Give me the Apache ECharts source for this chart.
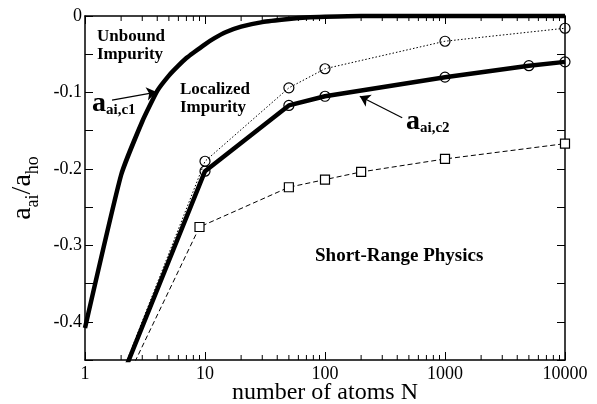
<!DOCTYPE html>
<html><head><meta charset="utf-8">
<script src="https://cdn.jsdelivr.net/npm/echarts@6/dist/echarts.min.js"></script>
<style>html,body{margin:0;padding:0;background:#fff}#c{width:597px;height:404px}</style>
</head><body><div id="c"></div>
<script>
// ---- data ----
const c1N = [1, 2, 3, 4, 5, 6, 7, 8, 10, 12, 15, 20, 30, 50, 70, 100, 200, 1000, 10000];
const c1Val = [-0.408, -0.208, -0.138, -0.098, -0.078, -0.065, -0.055, -0.048, -0.037, -0.029, -0.021, -0.014, -0.008, -0.004, -0.002, -0.001, 0, 0, 0];
const c2N = [2, 10, 50, 100, 1000, 5000, 10000];
const c2Val = [-0.475, -0.203, -0.117, -0.105, -0.080, -0.065, -0.060];
const c2Marker = [false, true, true, true, true, true, true];
const dotN = [2, 10, 50, 100, 1000, 10000];
const dotVal = [-0.47, -0.190, -0.094, -0.069, -0.033, -0.016];
const dotMarker = [false, true, true, true, true, true];
const sqN = [2, 9, 50, 100, 200, 1000, 10000];
const sqVal = [-0.49, -0.276, -0.224, -0.214, -0.204, -0.187, -0.167];
const sqMarker = [false, true, true, true, true, true, true];
const minorTickVals = [];
[1, 10, 100, 1000].forEach(d => { for (let k = 2; k <= 9; k++) minorTickVals.push(d * k); });
const arrowC1 = [[1.68, -0.110], [3.95, -0.0995]];
const arrowC2 = [[440, -0.133], [195, -0.105]];

const FONT = '"Liberation Serif", "DejaVu Serif", serif';
function pairs(xs, ys, marks) {
  return xs.map((x, i) => ({ value: [x, ys[i]], symbolSize: marks && !marks[i] ? 0 : undefined }));
}
const chart = echarts.init(document.getElementById('c'), null, { renderer: 'canvas' });
const tickCommon = { show: true, inside: true, length: 8, lineStyle: { color: '#000', width: 1 } };
const lineCommon = { show: true, onZero: false, lineStyle: { color: '#000', width: 1.5 } };
chart.setOption({
  animation: false,
  backgroundColor: '#fff',
  grid: { left: 85, right: 32, top: 16, bottom: 44, containLabel: false, outerBoundsMode: 'none' },
  xAxis: [{
    type: 'log', logBase: 10, min: 1, max: 10000, position: 'bottom',
    axisLine: lineCommon, axisTick: tickCommon, splitLine: { show: false },
    axisLabel: { color: '#000', fontFamily: FONT, fontSize: 18, margin: 5, formatter: v => String(Math.round(v)) },
    name: 'number of atoms N', nameLocation: 'middle', nameGap: 21, nameMoveOverlap: false,
    nameTextStyle: { color: '#000', fontFamily: FONT, fontSize: 24, verticalAlign: 'top' }
  }, {
    type: 'log', logBase: 10, min: 1, max: 10000, position: 'top',
    axisLine: lineCommon, axisTick: tickCommon, splitLine: { show: false },
    axisLabel: { show: false }
  }],
  yAxis: [{
    type: 'value', min: -0.45, max: 0, interval: 0.05, position: 'left',
    axisLine: lineCommon, axisTick: tickCommon, splitLine: { show: false },
    axisLabel: {
      color: '#000', fontFamily: FONT, fontSize: 18, margin: 3,
      formatter: v => { const k = Math.round(v * 20); if (k % 2 !== 0) return ''; return k === 0 ? '0' : (k / 20).toFixed(1); }
    },
    name: '{a|a}{s|ai}{a|/a}{s|ho}', nameLocation: 'middle', nameRotate: 90, nameGap: 40,
    nameTextStyle: {
      rich: {
        a: { fontFamily: FONT, fontSize: 28, color: '#000', lineHeight: 34, verticalAlign: 'top' },
        s: { fontFamily: FONT, fontSize: 18, color: '#000', lineHeight: 34, verticalAlign: 'bottom', padding: [10, 0, 0, 0] }
      }
    }
  }, {
    type: 'value', min: -0.45, max: 0, interval: 0.05, position: 'right',
    axisLine: lineCommon, axisTick: tickCommon, splitLine: { show: false },
    axisLabel: { show: false }
  }],
  series: [
    {
      type: 'custom', xAxisIndex: 0, yAxisIndex: 0, silent: true, clip: false,
      data: minorTickVals,
      renderItem: (params, api) => {
        const p = api.coord([api.value(0), -0.45]);
        const q = api.coord([api.value(0), 0]);
        return { type: 'group', children: [
          { type: 'line', shape: { x1: p[0], y1: p[1], x2: p[0], y2: p[1] - 5 }, style: { stroke: '#000', lineWidth: 1 } },
          { type: 'line', shape: { x1: q[0], y1: q[1], x2: q[0], y2: q[1] + 5 }, style: { stroke: '#000', lineWidth: 1 } }
        ] };
      }
    },
    {
      name: 'c1', type: 'line', data: pairs(c1N, c1Val), showSymbol: false, smooth: 0.15, clip: false,
      lineStyle: { color: '#000', width: 4.5 }, z: 5,
      markLine: {
        silent: true, symbol: ['none', 'arrow'], symbolSize: 10,
        lineStyle: { color: '#000', width: 1.2, type: 'solid' }, label: { show: false },
        data: [[{ coord: arrowC1[0] }, { coord: arrowC1[1] }], [{ coord: arrowC2[0] }, { coord: arrowC2[1] }]]
      }
    },
    {
      name: 'c2', type: 'line', data: pairs(c2N, c2Val, c2Marker), symbol: 'circle', symbolSize: 10,
      lineStyle: { color: '#000', width: 4.5 }, itemStyle: { color: 'rgba(255,255,255,0)', borderColor: '#000', borderWidth: 1.2 }, z: 4
    },
    {
      name: 'dotted', type: 'line', data: pairs(dotN, dotVal, dotMarker), symbol: 'circle', symbolSize: 10,
      lineStyle: { color: '#000', width: 1, type: [1.5, 2] }, itemStyle: { color: 'rgba(255,255,255,0)', borderColor: '#000', borderWidth: 1.2 }, z: 3
    },
    {
      name: 'dashed', type: 'line', data: pairs(sqN, sqVal, sqMarker), symbol: 'rect', symbolSize: 9,
      lineStyle: { color: '#000', width: 1, type: [5, 3] }, itemStyle: { color: '#fff', borderColor: '#000', borderWidth: 1.2 }, z: 3
    }
  ],
  graphic: [
    { type: 'text', left: 97, top: 28, style: { text: 'Unbound\nImpurity', font: 'bold 17px ' + FONT, fill: '#000', lineHeight: 18 } },
    { type: 'text', left: 180, top: 81, style: { text: 'Localized\nImpurity', font: 'bold 17px ' + FONT, fill: '#000', lineHeight: 18 } },
    { type: 'text', left: 315, top: 247, style: { text: 'Short-Range Physics', font: 'bold 19px ' + FONT, fill: '#000' } },
    { type: 'text', left: 92, top: 90, style: { text: '{a|a}{s|ai,c1}', rich: {
      a: { font: 'bold 28px ' + FONT, fill: '#000', lineHeight: 28, verticalAlign: 'top' },
      s: { font: 'bold 15px ' + FONT, fill: '#000', lineHeight: 28, verticalAlign: 'bottom', padding: [12, 0, 0, 0] } } } },
    { type: 'text', left: 406, top: 108, style: { text: '{a|a}{s|ai,c2}', rich: {
      a: { font: 'bold 28px ' + FONT, fill: '#000', lineHeight: 28, verticalAlign: 'top' },
      s: { font: 'bold 15px ' + FONT, fill: '#000', lineHeight: 28, verticalAlign: 'bottom', padding: [12, 0, 0, 0] } } } }
  ]
});
</script></body></html>
